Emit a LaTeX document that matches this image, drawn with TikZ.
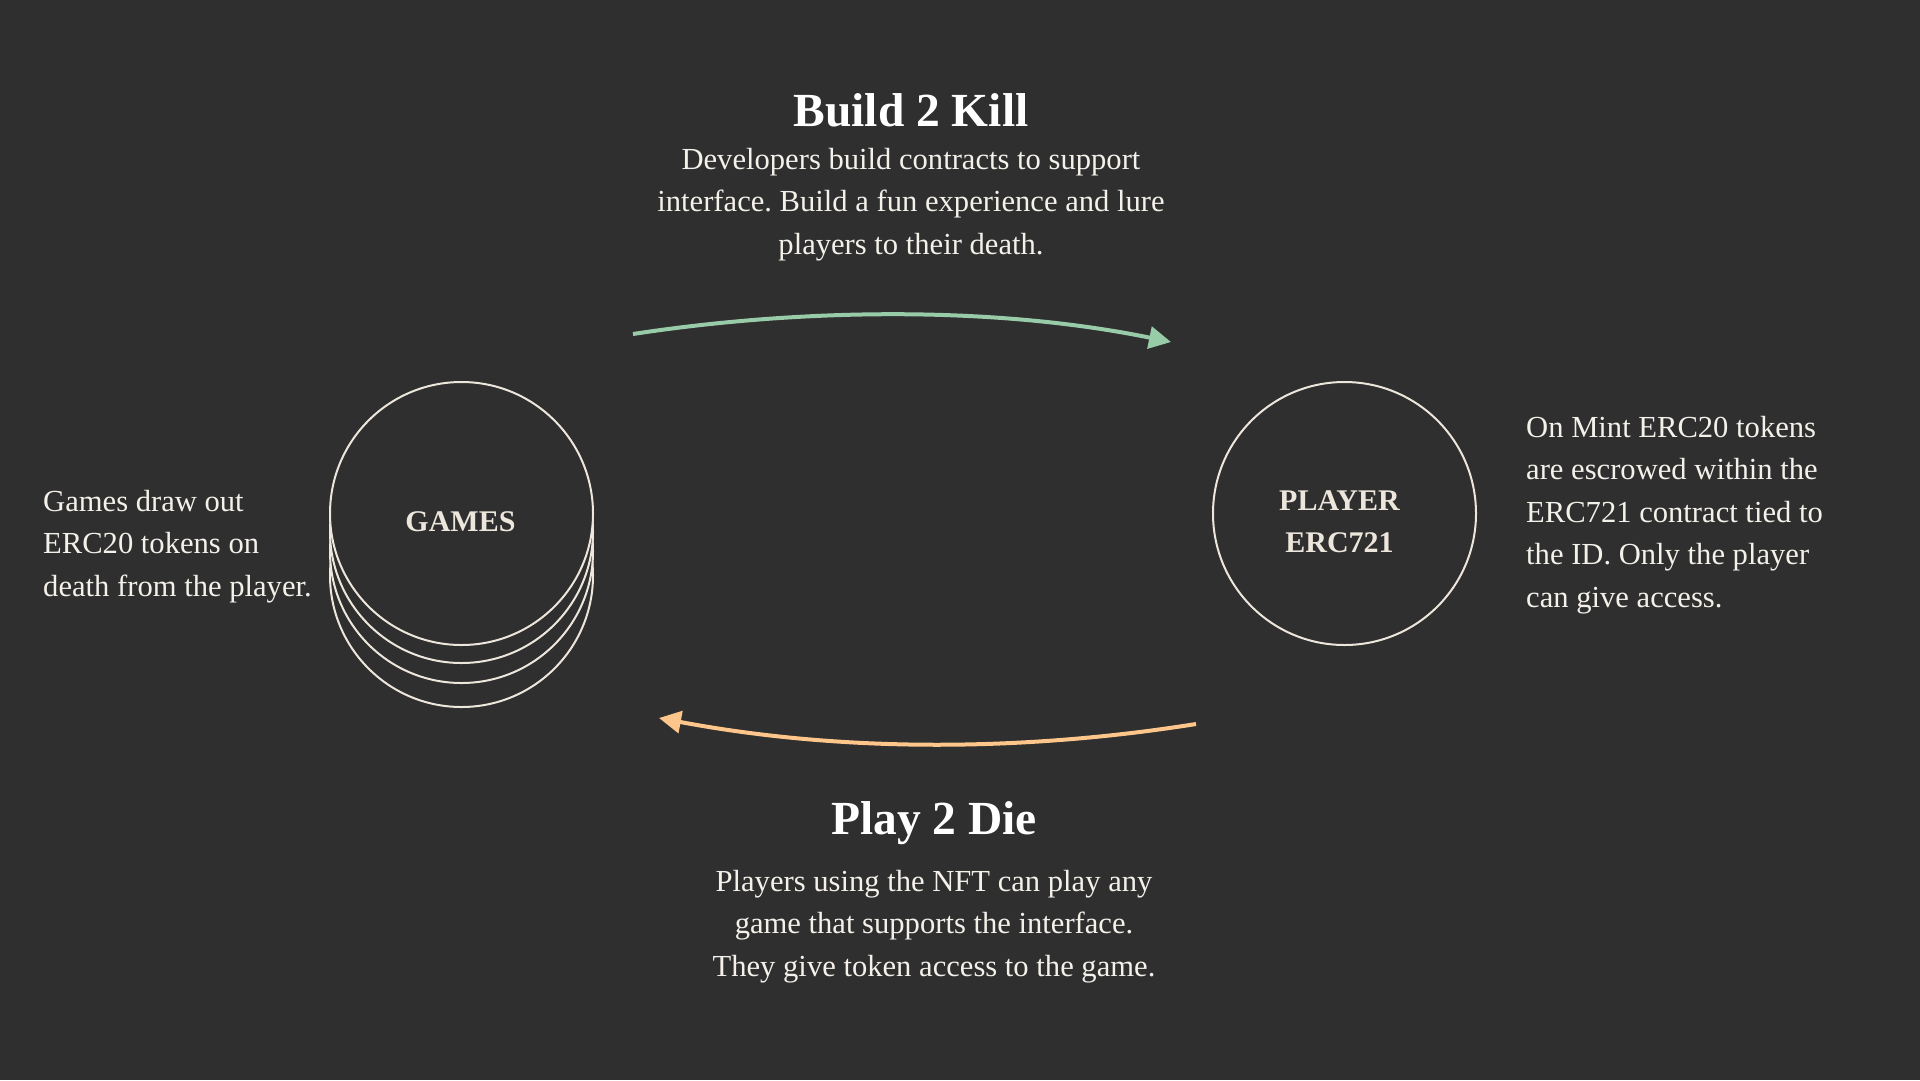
\documentclass[tikz,border=0pt]{standalone}
\usepackage{fontspec}
\setmainfont{Liberation Serif}
\usetikzlibrary{arrows.meta}
\frenchspacing
\definecolor{bg}{HTML}{2F2F2F}
\definecolor{ink}{HTML}{F4F0EA}
\definecolor{ring}{HTML}{EDE6DC}
\definecolor{mint}{HTML}{98CCA9}
\definecolor{peach}{HTML}{FEC68A}
\tikzset{
  body/.style={text=ink, font=\fontsize{30.6}{42.5}\selectfont, align=center, inner sep=0pt},
  sidetext/.style={text=ink, font=\fontsize{30.6}{42.5}\selectfont, align=left, inner sep=0pt, anchor=north west},
  title/.style={text=white, font=\fontsize{47.5}{50}\selectfont\bfseries, inner sep=0pt},
  disc/.style={circle, draw=ring, line width=2pt, minimum size=263pt, inner sep=0pt, fill=bg},
  lab/.style={text=ring, font=\fontsize{30}{42}\selectfont\bfseries, align=center},
  flow/.style={line width=4pt, -{Triangle[length=22pt,width=22pt]}},
}
\begin{document}
\begin{tikzpicture}[x=1pt,y=-1pt]
\fill[bg] (0,0) rectangle (1920,1080);
\useasboundingbox (0,0) rectangle (1920,1080);
% stacked discs behind GAMES
\node[disc] (gs3) at (461.5,575.5) {};
\node[disc] (gs2) at (461.5,551.5) {};
\node[disc] (gs1) at (461.5,531.5) {};
\node[disc] (games) at (461.5,513.5) {};
\node[lab] at ([shift={(-1,8.5)}]games.center) {GAMES};
\node[disc] (player) at (1344.5,513.5) {};
\node[lab] at ([shift={(-5,8.5)}]player.center) {PLAYER\\ERC721};
% titles and texts
\node[title] (t1) at (911,110) {Build 2 Kill};
\node[body, anchor=north] (d1) at (911,148) {Developers build contracts to support\\interface. Build a fun experience and lure\\players to their death.};
\node[title] (t2) at (934,823) {Play 2 Die};
\node[body, anchor=north] (d2) at (934,870) {Players using the NFT can play any\\game that supports the interface.\\They give token access to the game.};
\node[sidetext] (lt) at (43,490) {Games draw out\\ERC20 tokens on\\death from the player.};
\node[sidetext] (rt) at (1526,416) {On Mint ERC20 tokens\\are escrowed within the\\ERC721 contract tied to\\the ID. Only the player\\can give access.};
% connectors
\coordinate (a1) at (633,334);
\coordinate (a2) at (1171,342);
\coordinate (b1) at (1196,724);
\coordinate (b2) at (659,718);
\draw[flow, mint] (a1) .. controls (810,307) and (1000,307) .. (a2);
\draw[flow, peach] (b1) .. controls (1020,752) and (840,752) .. (b2);
\end{tikzpicture}
\end{document}
